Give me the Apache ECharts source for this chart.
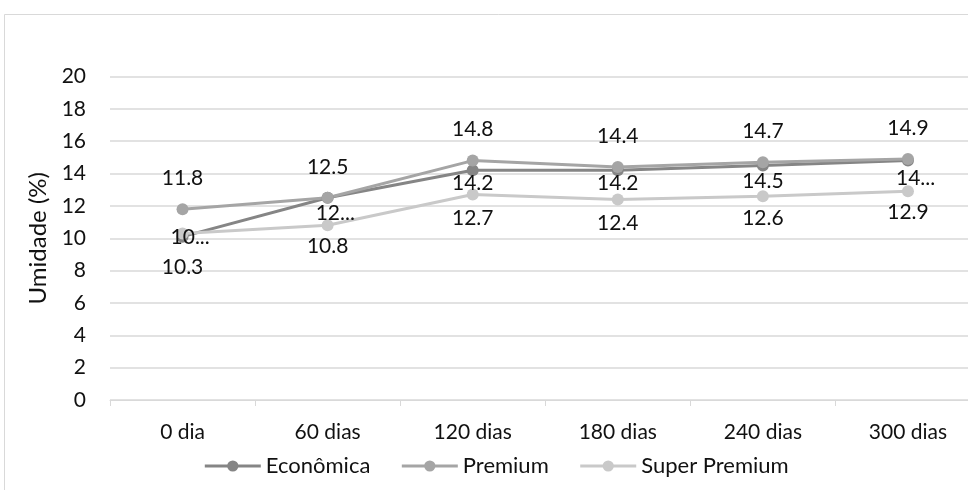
<!DOCTYPE html>
<html>
<head>
<meta charset="utf-8">
<script src="https://cdn.jsdelivr.net/npm/echarts@6/dist/echarts.min.js"></script>
<style>
  html, body { margin: 0; padding: 0; overflow: hidden; background: #fff; }
  #chart { width: 992px; height: 490px; }
</style>
</head>
<body>
<div id="chart"></div>
<script>
// Storage time (days) and moisture content (%) per product line
const categories = ['0 dia', '60 dias', '120 dias', '180 dias', '240 dias', '300 dias'];
const economica = [10.1, 12.5, 14.2, 14.2, 14.5, 14.8];
const premium = [11.8, 12.5, 14.8, 14.4, 14.7, 14.9];
const superPremium = [10.3, 10.8, 12.7, 12.4, 12.6, 12.9];
const yMin = 0, yMax = 20, yStep = 2;

const FONT = 'Lato';
const TEXT = '#111';
const GRID = '#d9d9d9';

// label placement: vertical shift from each marker, and which labels are cut short
const ecoShift = [1, 15, 13, 13, 16, 18];
const ecoCut = [true, true, false, false, false, true];
const premShift = [-31, -31, -31, -31, -31, -31];
const spShift = [34, 21, 24, 24, 22, 21];

function points(values, shifts, cut) {
  return values.map((v, i) => {
    const label = { offset: [0, shifts[i]] };
    if (cut && cut[i]) {
      label.formatter = () => Math.trunc(v) + '...';
      label.align = 'left';
      label.offset = [-12, shifts[i]];
    }
    return { value: v, label };
  });
}

function lineSeries(name, color, data) {
  return {
    name, type: 'line', data,
    symbol: 'circle', symbolSize: 12,
    lineStyle: { color, width: 3 },
    itemStyle: { color },
    label: {
      show: true, position: 'inside',
      color: TEXT, fontFamily: FONT, fontSize: 21
    },
    emphasis: { disabled: true }
  };
}

const chart = echarts.init(document.getElementById('chart'));
chart.setOption({
  animation: false,
  backgroundColor: '#fff',
  textStyle: { fontFamily: FONT },
  graphic: [{
    type: 'rect', z: -1,
    shape: { x: 4.5, y: 14.5, width: 1200, height: 700 },
    style: { fill: 'none', stroke: GRID, lineWidth: 1 }
  }],
  grid: { left: 110, right: 11.5, top: 76.5, bottom: 90 },
  legend: {
    left: 'center', top: 450,
    itemWidth: 56, itemHeight: 14, itemGap: 30,
    lineStyle: { width: 3 },
    textStyle: { color: TEXT, fontFamily: FONT, fontSize: 22 },
    data: ['Econômica', 'Premium', 'Super Premium']
  },
  xAxis: {
    type: 'category', data: categories, boundaryGap: true,
    axisLine: { lineStyle: { color: GRID, width: 1 } },
    axisTick: { show: true, length: 6, lineStyle: { color: GRID } },
    axisLabel: { color: TEXT, fontFamily: FONT, fontSize: 21, margin: 22 }
  },
  yAxis: {
    type: 'value', min: yMin, max: yMax, interval: yStep,
    name: 'Umidade (%)', nameLocation: 'middle', nameGap: 58,
    nameTextStyle: { color: TEXT, fontFamily: FONT, fontSize: 24 },
    axisLine: { show: false }, axisTick: { show: false },
    axisLabel: { color: TEXT, fontFamily: FONT, fontSize: 21, margin: 24 },
    splitLine: { lineStyle: { color: GRID, width: 1.5 } }
  },
  series: [
    lineSeries('Econômica', '#858585', points(economica, ecoShift, ecoCut)),
    lineSeries('Premium', '#a5a5a5', points(premium, premShift)),
    lineSeries('Super Premium', '#c9c9c9', points(superPremium, spShift))
  ]
});
</script>
</body>
</html>
